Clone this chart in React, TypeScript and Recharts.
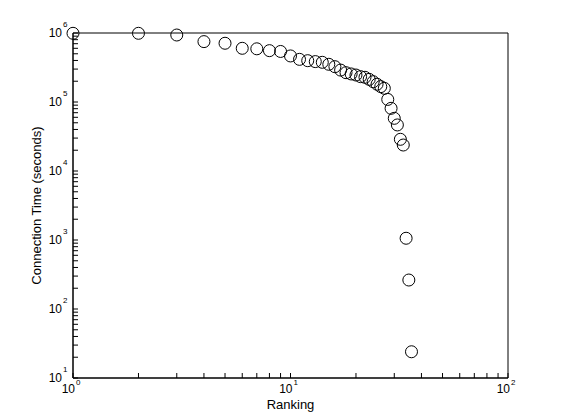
import { ScatterChart, Scatter, XAxis, YAxis, ReferenceArea } from 'recharts';

// rank of each connection and its total connection time (seconds)
const RANKS = [
  1, 2, 3, 4, 5, 6, 7, 8, 9, 10, 11, 12, 13, 14, 15, 16, 17, 18,
  19, 20, 21, 22, 23, 24, 25, 26, 27, 28, 29, 30, 31, 32, 33, 34, 35, 36,
];
const CONNECTION_TIME = [
  9.9e5, 9.9e5, 9.35e5, 7.5e5, 7.1e5, 6.0e5, 5.9e5, 5.55e5, 5.4e5, 4.65e5,
  4.15e5, 3.97e5, 3.85e5, 3.76e5, 3.52e5, 3.25e5, 2.9e5, 2.66e5, 2.55e5, 2.46e5,
  2.33e5, 2.28e5, 2.13e5, 1.97e5, 1.81e5, 1.67e5, 1.58e5, 1.09e5, 8.1e4, 5.8e4,
  4.65e4, 2.88e4, 2.38e4, 1.06e3, 2.63e2, 24,
];

const X_DECADES = [1, 10];
const Y_DECADES = [10, 100, 1e3, 1e4, 1e5];
const MULTIPLES = [1, 2, 3, 4, 5, 6, 7, 8, 9];

const X_TICKS = [...X_DECADES.flatMap((d) => MULTIPLES.map((m) => d * m)), 100];
const Y_TICKS = [...Y_DECADES.flatMap((d) => MULTIPLES.map((m) => d * m)), 1e6];

const data = RANKS.map((rank, i) => ({ rank, time: CONNECTION_TIME[i] }));

const FONT = '"Liberation Sans", Arial, Helvetica, sans-serif';
const TICK_LEN = 5;

function exponentOf(v: number): number | null {
  const e = Math.log10(v);
  return Math.abs(e - Math.round(e)) < 1e-9 ? Math.round(e) : null;
}

function BottomTick({ x, y, payload }: any) {
  const e = exponentOf(payload.value);
  return (
    <g>
      <line x1={x} x2={x} y1={y} y2={y - TICK_LEN} stroke="#000" />
      {e !== null && (
        <>
          <text x={x + 2} y={y + 15} textAnchor="end" fontSize={12} fontFamily={FONT} fill="#000">
            10
          </text>
          <text x={x + 3} y={y + 7} fontSize={8} fontFamily={FONT} fill="#000">
            {e}
          </text>
        </>
      )}
    </g>
  );
}

function TopTick({ x, y }: any) {
  return <line x1={x} x2={x} y1={y} y2={y + TICK_LEN} stroke="#000" />;
}

function LeftTick({ x, y, payload }: any) {
  const e = exponentOf(payload.value);
  return (
    <g>
      <line x1={x} x2={x + TICK_LEN} y1={y} y2={y} stroke="#000" />
      {e !== null && (
        <>
          <text x={x - 11} y={y + 4} textAnchor="end" fontSize={12} fontFamily={FONT} fill="#000">
            10
          </text>
          <text x={x - 10} y={y - 6} fontSize={8} fontFamily={FONT} fill="#000">
            {e}
          </text>
        </>
      )}
    </g>
  );
}

function RightTick({ x, y }: any) {
  return <line x1={x} x2={x - TICK_LEN} y1={y} y2={y} stroke="#000" />;
}

function Ring(props: any) {
  return <circle cx={props.cx} cy={props.cy} r={6} fill="none" stroke="#000" strokeWidth={1} />;
}

export default function App() {
  return (
    <div style={{ position: 'absolute', left: 0, top: 0, width: 561, height: 420, background: '#fff' }}>
      <ScatterChart width={561} height={420} margin={{ top: 33, right: 53, bottom: 0, left: 13 }}>
        <XAxis
          xAxisId="bottom"
          dataKey="rank"
          type="number"
          scale="log"
          domain={[1, 100]}
          ticks={X_TICKS}
          interval={0}
          height={42}
          tickSize={0}
          tickMargin={0}
          tickLine={false}
          stroke="#000"
          axisLine={{ stroke: '#000' }}
          tick={<BottomTick />}
          label={{
            value: 'Ranking',
            position: 'insideBottom',
            offset: 11,
            style: { fontSize: 13, fill: '#000', fontFamily: FONT },
          }}
        />
        <XAxis
          xAxisId="top"
          orientation="top"
          type="number"
          scale="log"
          domain={[1, 100]}
          ticks={X_TICKS}
          interval={0}
          height={0}
          tickSize={0}
          tickMargin={0}
          tickLine={false}
          stroke="#000"
          axisLine={{ stroke: '#000' }}
          tick={<TopTick />}
        />
        <YAxis
          yAxisId="left"
          dataKey="time"
          type="number"
          scale="log"
          domain={[10, 1e6]}
          ticks={Y_TICKS}
          interval={0}
          width={60}
          tickSize={0}
          tickMargin={0}
          tickLine={false}
          stroke="#000"
          axisLine={{ stroke: '#000' }}
          tick={<LeftTick />}
          label={{
            value: 'Connection Time (seconds)',
            angle: -90,
            position: 'insideLeft',
            offset: 23,
            style: { textAnchor: 'middle', fontSize: 13, fill: '#000', fontFamily: FONT },
          }}
        />
        <YAxis
          yAxisId="right"
          orientation="right"
          type="number"
          scale="log"
          domain={[10, 1e6]}
          ticks={Y_TICKS}
          interval={0}
          width={0}
          tickSize={0}
          tickMargin={0}
          tickLine={false}
          stroke="#000"
          axisLine={{ stroke: '#000' }}
          tick={<RightTick />}
        />
        <ReferenceArea
          xAxisId="bottom"
          yAxisId="left"
          x1={1}
          x2={100}
          y1={10}
          y2={1e6}
          fill="none"
          fillOpacity={0}
          stroke="#000"
          strokeOpacity={1}
          ifOverflow="visible"
        />
        <Scatter
          xAxisId="bottom"
          yAxisId="left"
          data={data}
          shape={<Ring />}
          isAnimationActive={false}
        />
      </ScatterChart>
    </div>
  );
}
